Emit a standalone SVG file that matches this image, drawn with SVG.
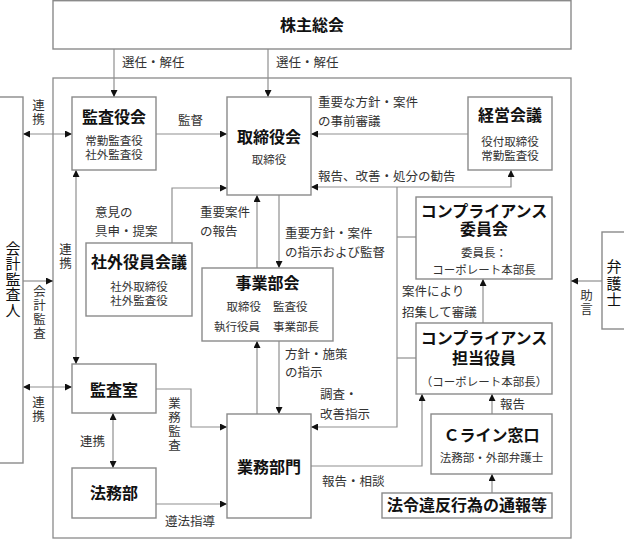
<svg xmlns="http://www.w3.org/2000/svg" width="624" height="539" viewBox="0 0 624 539">
<defs>
<style>
.box{fill:#fff;stroke:#8a8a8a;stroke-width:1.4}
.frame{fill:none;stroke:#8a8a8a;stroke-width:1.3}
.ln{fill:none;stroke:#8f8f8f;stroke-width:1.2}
.t,.s,.l,.v,.vt{font-family:"Liberation Sans","Noto Sans CJK JP",sans-serif}
.t{font-size:16px;font-weight:bold;fill:#111;text-anchor:middle;dominant-baseline:central}
.s{font-size:11.5px;fill:#333;text-anchor:middle;dominant-baseline:central}
.l{font-size:12.5px;fill:#333;dominant-baseline:central}
.v{font-size:12.5px;letter-spacing:1.5px;fill:#333;writing-mode:vertical-rl;text-anchor:start}
.vt{font-size:15px;fill:#111;writing-mode:vertical-rl;text-anchor:start}
</style>
<marker id="ah" markerUnits="userSpaceOnUse" markerWidth="7" markerHeight="7" refX="7" refY="3.5" orient="auto-start-reverse" viewBox="0 0 7 7">
<path d="M0,0 L7,3.5 L0,7 z" fill="#111"/>
</marker>
</defs>

<rect class="frame" x="53" y="78" width="518" height="460"/>

<g id="connectors">
<path class="ln" d="M114,49 V97" marker-end="url(#ah)"/>
<path class="ln" d="M268,49 V97" marker-end="url(#ah)"/>
<path class="ln" d="M23,134 H72" marker-start="url(#ah)" marker-end="url(#ah)"/>
<path class="ln" d="M156,134 H227" marker-end="url(#ah)"/>
<path class="ln" d="M468,134 H311" marker-end="url(#ah)"/>
<path class="ln" d="M311,187 H511 V170" marker-start="url(#ah)" marker-end="url(#ah)"/>
<path class="ln" d="M397,187 V427 H311" marker-end="url(#ah)"/>
<path class="ln" d="M397,237 H416"/>
<path class="ln" d="M397,358 H416"/>
<path class="ln" d="M172,243 V188 H227" marker-end="url(#ah)"/>
<path class="ln" d="M257,268 V195" marker-end="url(#ah)"/>
<path class="ln" d="M279,195 V268" marker-end="url(#ah)"/>
<path class="ln" d="M23,281 H53" marker-end="url(#ah)"/>
<path class="ln" d="M76,170 V364" marker-start="url(#ah)" marker-end="url(#ah)"/>
<path class="ln" d="M602,281 H571" marker-end="url(#ah)"/>
<path class="ln" d="M483,323 V279" marker-end="url(#ah)"/>
<path class="ln" d="M23,387 H72" marker-start="url(#ah)" marker-end="url(#ah)"/>
<path class="ln" d="M156,389 H191 V427 H227" marker-end="url(#ah)"/>
<path class="ln" d="M113,413 V468" marker-start="url(#ah)" marker-end="url(#ah)"/>
<path class="ln" d="M156,504 H227" marker-end="url(#ah)"/>
<path class="ln" d="M257,414 V341" marker-end="url(#ah)"/>
<path class="ln" d="M279,341 V414" marker-end="url(#ah)"/>
<path class="ln" d="M311,466 H422 V394" marker-end="url(#ah)"/>
<path class="ln" d="M492,414 V394" marker-end="url(#ah)"/>
<path class="ln" d="M492,493 V474" marker-end="url(#ah)"/>
</g>

<g id="labels">
<text class="l" x="122" y="63">選任・解任</text>
<text class="l" x="276" y="63">選任・解任</text>
<text class="v" x="37" y="98.5">連携</text>
<text class="l" x="178" y="121">監督</text>
<text class="l" x="318" y="103">重要な方針・案件</text>
<text class="l" x="318" y="122">の事前審議</text>
<text class="l" x="318" y="177">報告、改善・処分の勧告</text>
<text class="l" x="95" y="213">意見の</text>
<text class="l" x="95" y="232">具申・提案</text>
<text class="l" x="200" y="213">重要案件</text>
<text class="l" x="200" y="232">の報告</text>
<text class="l" x="285" y="234">重要方針・案件</text>
<text class="l" x="285" y="253">の指示および監督</text>
<text class="v" x="64" y="242.5">連携</text>
<text class="v" x="38" y="284.5">会計監査</text>
<text class="l" x="402" y="292">案件により</text>
<text class="l" x="402" y="313">招集して審議</text>
<text class="v" x="585" y="288.5">助言</text>
<text class="l" x="285" y="355">方針・施策</text>
<text class="l" x="285" y="373">の指示</text>
<text class="l" x="320" y="395">調査・</text>
<text class="l" x="320" y="415">改善指示</text>
<text class="v" x="37" y="395.5">連携</text>
<text class="v" x="173" y="396.5">業務監査</text>
<text class="l" x="80" y="442">連携</text>
<text class="l" x="500" y="405">報告</text>
<text class="l" x="322" y="482">報告・相談</text>
<text class="l" x="165" y="522">遵法指導</text>
</g>

<g id="kabunushi">
<rect class="box" x="53" y="0.7" width="518" height="48.3"/>
<text class="t" x="312" y="25">株主総会</text>
</g>

<g id="kansayakukai">
<rect class="box" x="72" y="97" width="84" height="73"/>
<text class="t" x="114" y="117">監査役会</text>
<text class="s"><tspan x="114" y="141">常勤監査役</tspan><tspan x="114" y="155">社外監査役</tspan></text>
</g>

<g id="torishimariyakukai">
<rect class="box" x="227" y="97" width="84" height="98"/>
<text class="t" x="269" y="137">取締役会</text>
<text class="s" x="269" y="160">取締役</text>
</g>

<g id="keiei">
<rect class="box" x="468" y="97" width="84" height="73"/>
<text class="t" x="510" y="115">経営会議</text>
<text class="s"><tspan x="510" y="142">役付取締役</tspan><tspan x="510" y="155.5">常勤監査役</tspan></text>
</g>

<g id="shagai">
<rect class="box" x="86" y="243" width="106" height="73"/>
<text class="t" x="139" y="262">社外役員会議</text>
<text class="s"><tspan x="139" y="286.5">社外取締役</tspan><tspan x="139" y="300.5">社外監査役</tspan></text>
</g>

<g id="jigyobukai">
<rect class="box" x="202" y="268" width="131" height="73"/>
<text class="t" x="267.5" y="283">事業部会</text>
<text class="s" x="261" y="307" style="text-anchor:end">取締役</text>
<text class="s" x="273" y="307" style="text-anchor:start">監査役</text>
<text class="s" x="260" y="327" style="text-anchor:end">執行役員</text>
<text class="s" x="273" y="327" style="text-anchor:start">事業部長</text>
</g>

<g id="compliance-iinkai">
<rect class="box" x="416" y="197" width="136" height="82"/>
<text class="t"><tspan x="484" y="211">コンプライアンス</tspan><tspan x="484" y="229">委員会</tspan></text>
<text class="s"><tspan x="484" y="253">委員長：</tspan><tspan x="484" y="270">コーポレート本部長</tspan></text>
</g>

<g id="compliance-tanto">
<rect class="box" x="416" y="323" width="136" height="71"/>
<text class="t"><tspan x="484" y="338">コンプライアンス</tspan><tspan x="484" y="358">担当役員</tspan></text>
<text class="s" x="484" y="382">（コーポレート本部長）</text>
</g>

<g id="bengoshi">
<rect class="box" x="602" y="232" width="30" height="97"/>
<text class="vt" x="613" y="259" style="letter-spacing:1.5px">弁護士</text>
</g>

<g id="kaikeikansanin">
<rect class="box" x="-8" y="97" width="31" height="366"/>
<text class="vt" x="12" y="240.5" style="letter-spacing:0.5px">会計監査人</text>
</g>

<g id="kansashitsu">
<rect class="box" x="72" y="364" width="84" height="49"/>
<text class="t" x="114" y="390">監査室</text>
</g>

<g id="homubu">
<rect class="box" x="72" y="468" width="84" height="50"/>
<text class="t" x="114" y="493">法務部</text>
</g>

<g id="gyomubumon">
<rect class="box" x="227" y="414" width="84" height="104"/>
<text class="t" x="269" y="467">業務部門</text>
</g>

<g id="cline">
<rect class="box" x="431" y="414" width="121" height="60"/>
<text class="t" x="491.5" y="435">Ｃライン窓口</text>
<text class="s" x="491.5" y="458">法務部・外部弁護士</text>
</g>

<g id="tsuho">
<rect class="box" x="382" y="493" width="170" height="25"/>
<text class="t" x="467" y="505.5">法令違反行為の通報等</text>
</g>
</svg>
